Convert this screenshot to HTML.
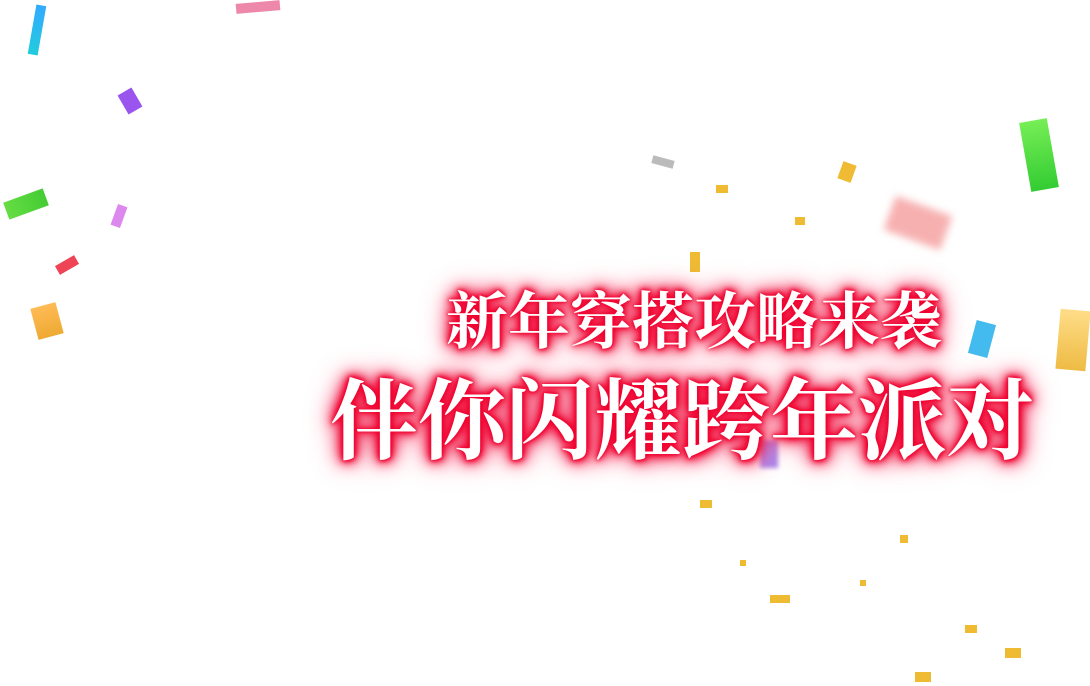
<!DOCTYPE html>
<html><head><meta charset="utf-8"><style>
html,body{margin:0;padding:0;background:#fff;width:1090px;height:686px;overflow:hidden;position:relative}
.t{position:absolute;font-family:"Liberation Serif","Noto Serif CJK SC",serif;font-weight:bold;color:#fff;white-space:nowrap;
text-shadow:0 0 3px #f0002e,0 0 5px #f0002e,0 0 8px #f0002e,0 0 10px #f0002e,0 0 14px #f01040,0 0 18px #f02050,0 0 24px #f04068,0 0 34px #f780a0}
.c{position:absolute}
</style></head><body>
<div class="c" style="left:32px;top:5px;width:10px;height:50px;background:linear-gradient(#3af,#2cd);transform:rotate(10deg)"></div>
<div class="c" style="left:236px;top:2px;width:44px;height:10px;background:#e8a;transform:rotate(-5deg)"></div>
<div class="c" style="left:122px;top:90px;width:16px;height:22px;background:#95e;transform:rotate(-30deg)"></div>
<div class="c" style="left:5px;top:195px;width:42px;height:18px;background:linear-gradient(90deg,#6d4,#4c3);transform:rotate(-20deg)"></div>
<div class="c" style="left:114px;top:205px;width:10px;height:22px;background:#d8e;transform:rotate(20deg)"></div>
<div class="c" style="left:56px;top:260px;width:22px;height:10px;background:#e45;transform:rotate(-30deg)"></div>
<div class="c" style="left:34px;top:305px;width:26px;height:32px;background:linear-gradient(#fb5,#ea3);transform:rotate(-15deg)"></div>
<div class="c" style="left:652px;top:158px;width:22px;height:8px;background:#bbb;transform:rotate(15deg)"></div>
<div class="c" style="left:840px;top:163px;width:14px;height:18px;background:#eb3;transform:rotate(20deg)"></div>
<div class="c" style="left:716px;top:185px;width:12px;height:8px;background:#eb3"></div>
<div class="c" style="left:795px;top:217px;width:10px;height:8px;background:#eb3"></div>
<div class="c" style="left:690px;top:252px;width:10px;height:20px;background:#eb3"></div>
<div class="c" style="left:1025px;top:120px;width:28px;height:70px;background:linear-gradient(#7e5,#3c3);transform:rotate(-10deg)"></div>
<div class="c" style="left:888px;top:205px;width:60px;height:36px;background:#f7b0b0;filter:blur(4px);transform:rotate(20deg)"></div>
<div class="c" style="left:972px;top:322px;width:20px;height:34px;background:#4be;transform:rotate(15deg)"></div>
<div class="c" style="left:1058px;top:310px;width:30px;height:60px;background:linear-gradient(#fd8,#eb4);transform:rotate(5deg)"></div>
<div class="c" style="left:760px;top:440px;width:18px;height:28px;background:#a8e;filter:blur(2px)"></div>
<div class="c" style="left:700px;top:500px;width:12px;height:8px;background:#eb3"></div>
<div class="c" style="left:770px;top:595px;width:20px;height:8px;background:#eb3"></div>
<div class="c" style="left:900px;top:535px;width:8px;height:8px;background:#eb3"></div>
<div class="c" style="left:965px;top:625px;width:12px;height:8px;background:#eb3"></div>
<div class="c" style="left:1005px;top:648px;width:16px;height:10px;background:#eb3"></div>
<div class="c" style="left:915px;top:672px;width:16px;height:10px;background:#eb3"></div>
<div class="c" style="left:860px;top:580px;width:6px;height:6px;background:#eb3"></div>
<div class="c" style="left:740px;top:560px;width:6px;height:6px;background:#eb3"></div>
<div class="t" style="left:446px;top:272px;font-size:62px">新年穿搭攻略来袭</div>
<div class="t" style="left:330px;top:352px;font-size:88px">伴你闪耀跨年派对</div>
</body></html>
